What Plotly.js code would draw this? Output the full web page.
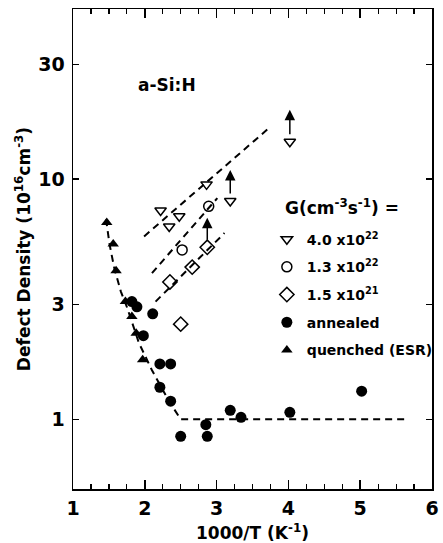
<!DOCTYPE html>
<html>
<head>
<meta charset="utf-8">
<script src="https://cdn.plot.ly/plotly-3.0.1.min.js"></script>
<style>html,body{margin:0;padding:0;background:#fff;}#chart{width:443px;height:543px;}</style>
</head>
<body>
<div id="chart"></div>
<script>
// 1000/T (K^-1) and defect density (10^16 cm^-3)
const triX = [2.22, 2.34, 2.48, 2.86, 3.19, 4.02];
const triY = [7.4, 6.35, 7.0, 9.5, 8.1, 14.3];
const circX = [2.52, 2.89];
const circY = [5.07, 7.7];
const diaX = [2.35, 2.66, 2.87, 2.50];
const diaY = [3.73, 4.3, 5.2, 2.49];
const annX = [1.82, 1.89, 2.11, 1.98, 2.21, 2.36, 2.21, 2.36, 2.50, 2.85, 2.87, 3.19, 3.34, 4.02, 5.02];
const annY = [3.09, 2.94, 2.75, 2.23, 1.70, 1.70, 1.36, 1.19, 0.85, 0.95, 0.85, 1.09, 1.02, 1.07, 1.31];
const queX = [1.47, 1.56, 1.60, 1.73, 1.82, 1.88, 1.97];
const queY = [6.6, 5.36, 4.15, 3.09, 2.68, 2.28, 1.77];
// dashed guide lines
const triFitX = [1.99, 3.74], triFitY = [5.77, 16.4];
const circFitX = [2.10, 3.01], circFitY = [4.06, 8.33];
const diaFitX = [2.15, 3.11], diaFitY = [3.09, 5.96];
const curveX = [1.46, 1.51, 1.575, 1.667, 1.757, 1.823, 1.918, 2.10, 2.33, 2.50, 5.62];
const curveY = [6.8, 5.33, 4.26, 3.40, 2.90, 2.55, 2.08, 1.60, 1.20, 1.0, 1.0];
// upward arrows: x, base value, tip value
const arrowX = [4.02, 3.19, 2.87];
const arrowBase = [14.3, 8.1, 5.2];
const arrowTip = [19.4, 10.9, 6.9];
const yTicks = [1, 3, 10, 30];
const xTicks = [1, 2, 3, 4, 5, 6];
const yRange = [0.513, 51];

const FONT = 'DejaVu Sans';
const dashLine = {color: 'black', width: 2, dash: '7px,5px'};
function fit(x, y) {
  return {x: x, y: y, mode: 'lines', line: dashLine, showlegend: false, hoverinfo: 'skip'};
}
const traces = [
  fit(triFitX, triFitY), fit(circFitX, circFitY), fit(diaFitX, diaFitY), fit(curveX, curveY),
  {x: triX, y: triY, mode: 'markers', name: '<b>4.0 x10<sup>22</sup></b>', legendgroup: 'a',
   marker: {symbol: 'triangle-down-open', size: 10, color: 'black', line: {width: 1.5}}},
  {x: circX, y: circY, mode: 'markers', name: '<b>1.3 x10<sup>22</sup></b>', legendgroup: 'b',
   marker: {symbol: 'circle-open', size: 10, color: 'black', line: {width: 1.5}}},
  {x: diaX, y: diaY, mode: 'markers', name: '<b>1.5 x10<sup>21</sup></b>', legendgroup: 'c',
   marker: {symbol: 'diamond-open', size: 11, color: 'black', line: {width: 1.5}}},
  {x: annX, y: annY, mode: 'markers', name: '<b>annealed</b>', legendgroup: 'd',
   marker: {symbol: 'circle', size: 11, color: 'black'}},
  {x: queX, y: queY, mode: 'markers', name: '<b>quenched (ESR)</b>', legendgroup: 'e',
   marker: {symbol: 'triangle-up', size: 10, color: 'black'}}
];

const annotations = [
  {xref: 'paper', yref: 'paper', x: 0.175, y: 0.842, xanchor: 'left', yanchor: 'middle',
   text: '<b>a-Si:H</b>', showarrow: false, font: {family: FONT, size: 17, color: 'black'}},
  {xref: 'paper', yref: 'paper', x: 0.585, y: 0.588, xanchor: 'left', yanchor: 'middle',
   text: '<b>G(cm<sup>-3</sup>s<sup>-1</sup>) =</b>', showarrow: false, font: {family: FONT, size: 17, color: 'black'}}
];
arrowX.forEach((x, i) => {
  annotations.push({x: x, y: Math.log10(arrowTip[i]), ax: x, ay: Math.log10(arrowBase[i]),
    xref: 'x', yref: 'y', axref: 'x', ayref: 'y', text: '', showarrow: true,
    arrowhead: 2, arrowsize: 1.4, arrowwidth: 1.5, arrowcolor: 'black', startstandoff: 6});
});

const layout = {
  width: 443, height: 543,
  margin: {l: 73, r: 5, t: 9, b: 54},
  paper_bgcolor: 'white', plot_bgcolor: 'white',
  font: {family: FONT, color: 'black'},
  showlegend: true,
  legend: {x: 0.54, y: 0.553, xanchor: 'left', yanchor: 'top', bgcolor: 'rgba(0,0,0,0)',
           font: {family: FONT, size: 14, color: 'black'}, tracegroupgap: 6.5, itemwidth: 30},
  xaxis: {range: [1, 6], tickvals: xTicks, ticktext: xTicks.map(v => '<b>' + v + '</b>'),
          ticks: 'inside', ticklen: 9, tickwidth: 1.5, tickcolor: 'black',
          showline: true, linewidth: 1.5, linecolor: 'black', mirror: 'ticks',
          showgrid: false, zeroline: false, ticklabelstandoff: 2,
          minor: {dtick: 0.25, ticks: 'inside', ticklen: 5, tickwidth: 1.2, tickcolor: 'black', showgrid: false},
          tickfont: {family: FONT, size: 19, color: 'black'},
          title: {text: '<b>1000/T (K<sup>-1</sup>)</b>', font: {family: FONT, size: 17, color: 'black'}, standoff: 15}},
  yaxis: {type: 'log', range: yRange.map(Math.log10), tickvals: yTicks,
          ticktext: yTicks.map(v => '<b>' + v + '</b>'),
          ticks: 'inside', ticklen: 6, tickwidth: 1.5, tickcolor: 'black',
          showline: true, linewidth: 1.5, linecolor: 'black', mirror: 'ticks',
          showgrid: false, zeroline: false, ticklabelstandoff: 3,
          tickfont: {family: FONT, size: 19, color: 'black'},
          title: {text: '<b>Defect Density (10<sup>16</sup>cm<sup>-3</sup>)</b>', font: {family: FONT, size: 17, color: 'black'}, standoff: 3}},
  yaxis2: {type: 'log', range: yRange.map(Math.log10), overlaying: 'y', side: 'left',
           tickvals: yTicks, showticklabels: false, ticks: 'outside', ticklen: 6, tickwidth: 1.5,
           tickcolor: 'black', showline: false, mirror: 'ticks', showgrid: false, zeroline: false},
  annotations: annotations
};
Plotly.newPlot('chart', traces, layout, {staticPlot: true, displayModeBar: false});
</script>
</body>
</html>
